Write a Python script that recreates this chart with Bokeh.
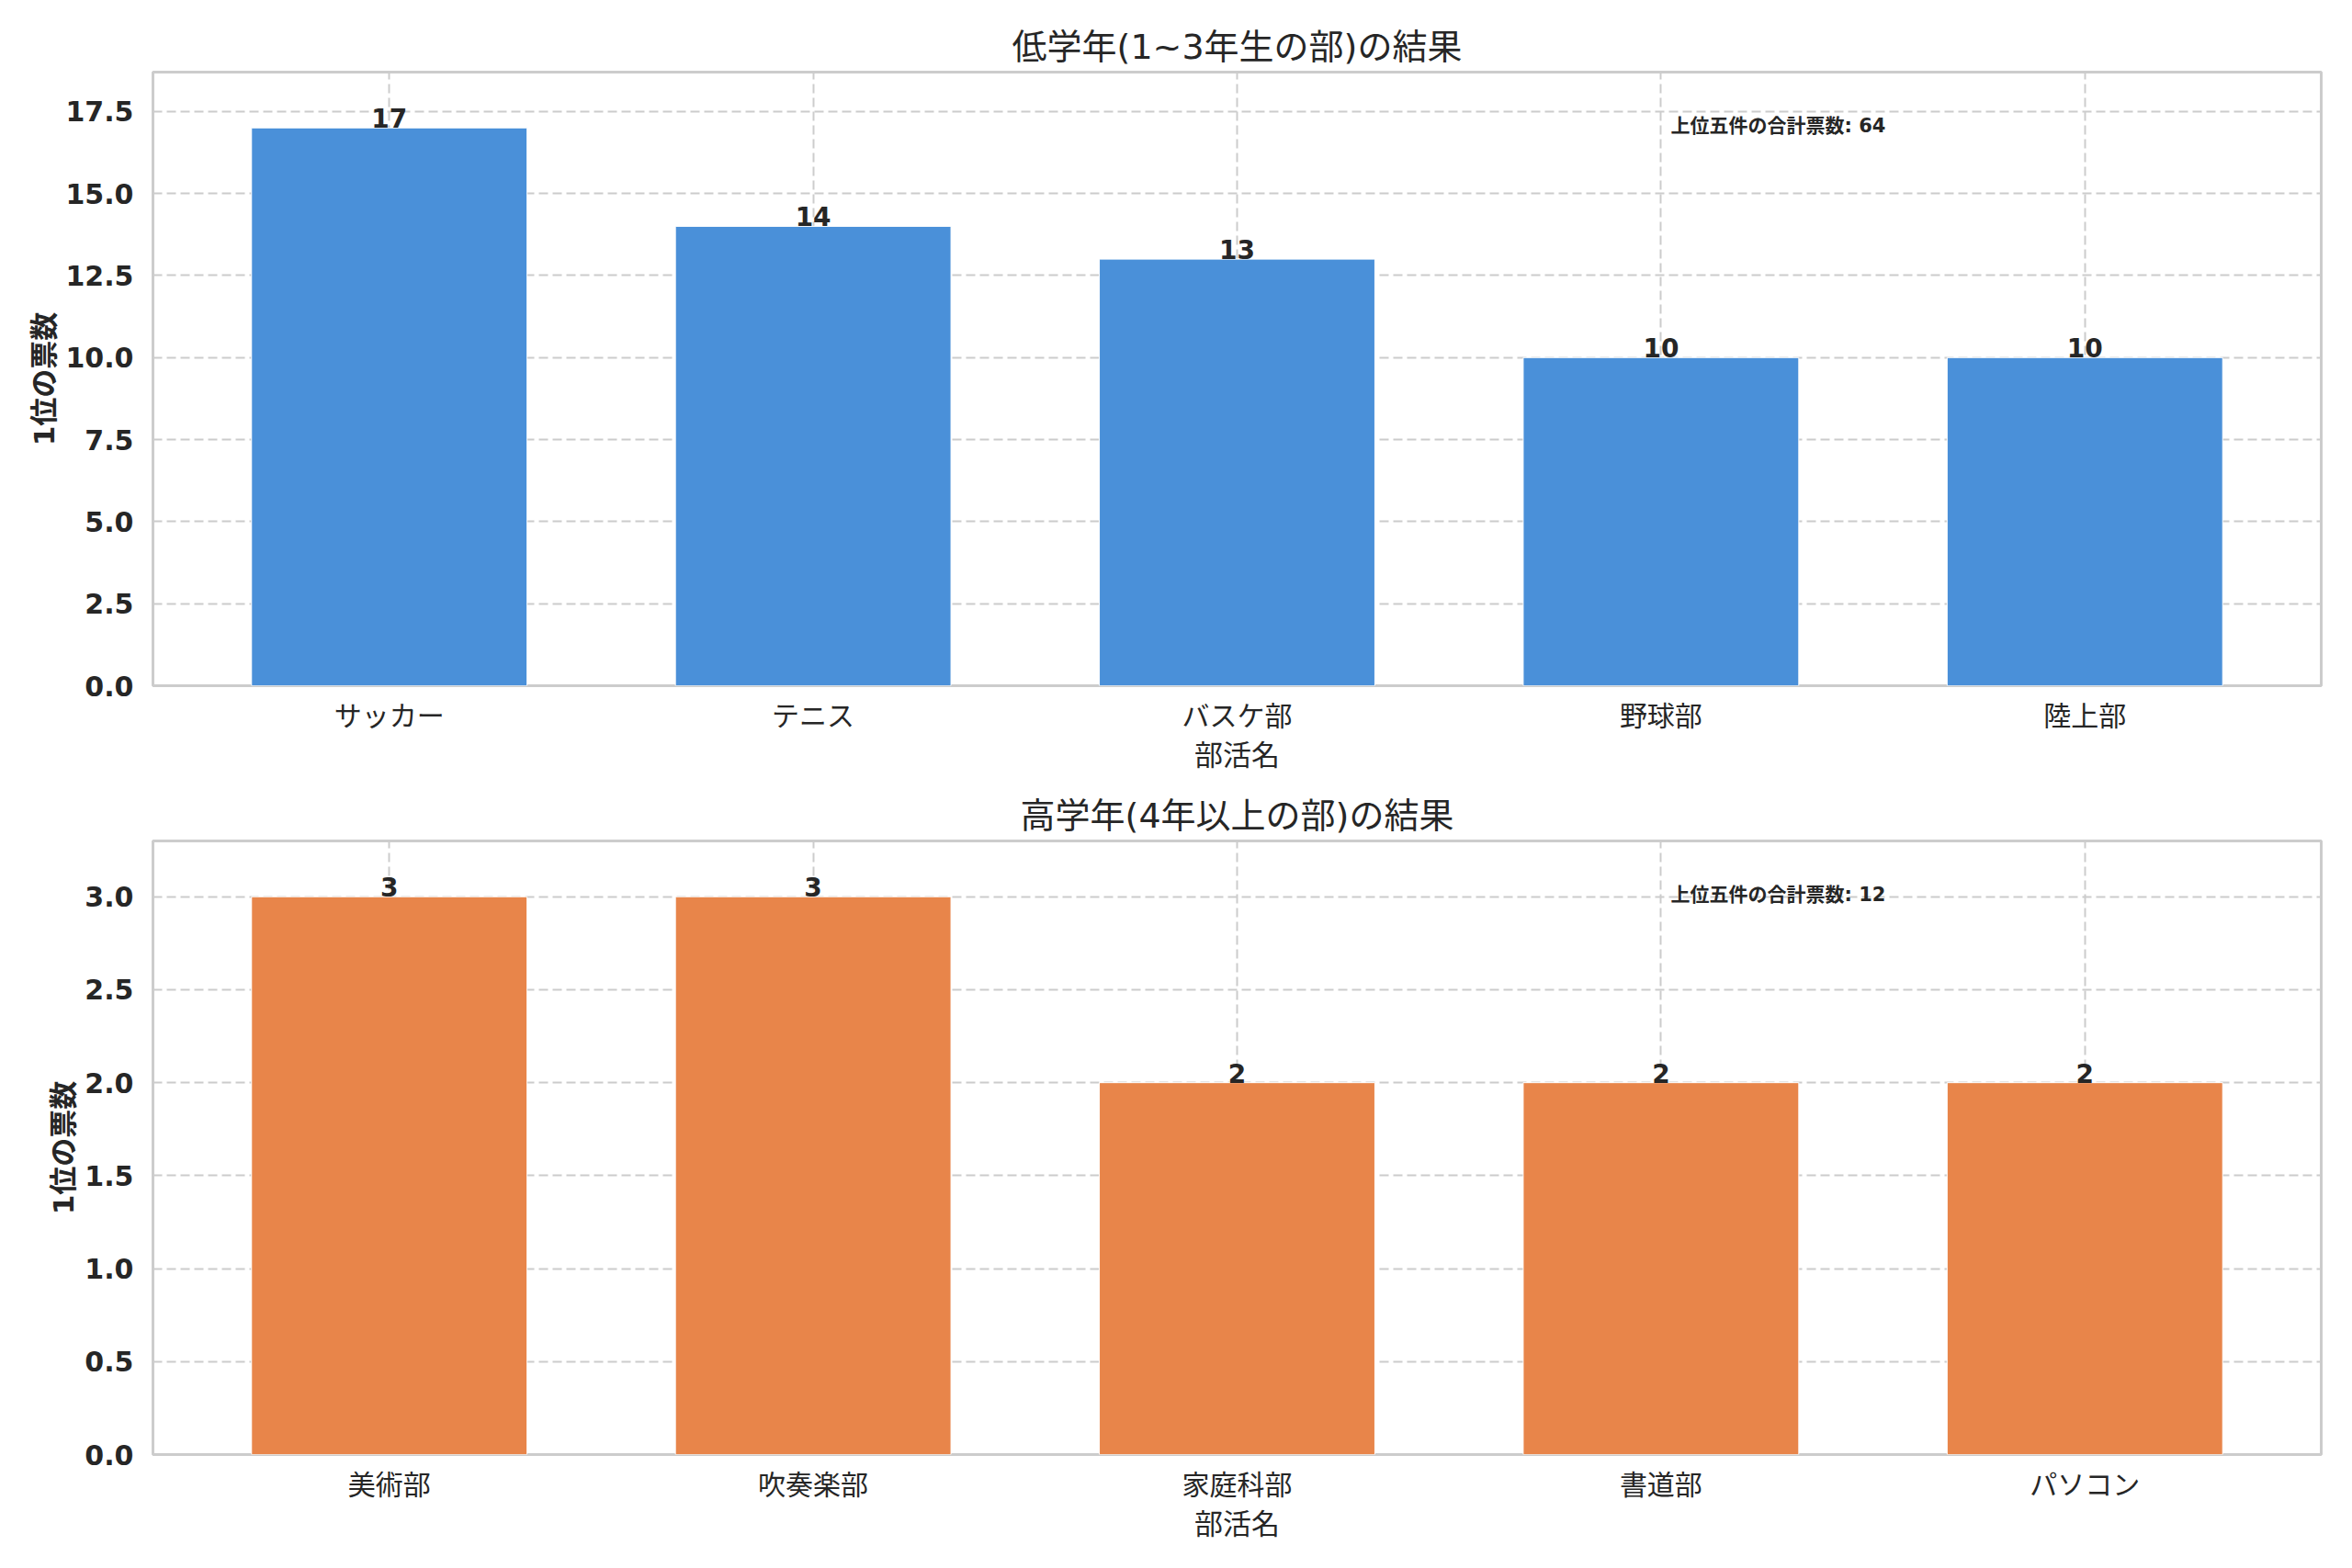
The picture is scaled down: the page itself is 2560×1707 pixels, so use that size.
from bokeh.plotting import figure
from bokeh.models import Range1d, FixedTicker, SingleIntervalTicker, NumeralTickFormatter, Label, ColumnDataSource
from bokeh.layouts import column
from bokeh.core.properties import value
from bokeh.embed import file_html
from bokeh.resources import INLINE

# ---- data ----
top_title = "低学年(1~3年生の部)の結果"
bottom_title = "高学年(4年以上の部)の結果"
top_categories = ["サッカー", "テニス", "バスケ部", "野球部", "陸上部"]
top_votes = [17, 14, 13, 10, 10]
bottom_categories = ["美術部", "吹奏楽部", "家庭科部", "書道部", "パソコン"]
bottom_votes = [3, 3, 2, 2, 2]
x_label = "部活名"
y_label = "1位の票数"
total_label = "上位五件の合計票数"
top_tick_interval = 2.5
bottom_tick_interval = 0.5
bar_colors = ["#4A90D9", "#E8854A"]

FONT = "DejaVu Sans, Noto Sans CJK JP"
TEXT = "#262626"
GRID = "#cccccc"
BAR_W = 0.65


def make_panel(title, cats, vals, color, interval, border_top, border_bottom):
    n = len(cats)
    xs = list(range(n))
    pad = (n - 1 + BAR_W) * 0.05
    x0 = -BAR_W / 2 - pad
    x1 = n - 1 + BAR_W / 2 + pad
    ymax = max(vals) * 1.1
    p = figure(frame_width=2360, frame_height=668,
               x_range=Range1d(x0, x1), y_range=Range1d(0, ymax),
               output_backend="svg", toolbar_location=None,
               min_border_left=166, min_border_right=25,
               min_border_top=border_top, min_border_bottom=border_bottom,
               background_fill_color="white", border_fill_color="white")
    p.title.text = title
    p.title.align = "center"
    p.title.text_font = FONT
    p.title.text_font_size = "38px"
    p.title.text_font_style = "normal"
    p.title.text_color = TEXT
    p.title.standoff = 11

    p.outline_line_color = GRID
    p.outline_line_width = 3

    # grids
    p.xgrid.ticker = FixedTicker(ticks=xs)
    for g in (p.xgrid, p.ygrid):
        g.grid_line_color = GRID
        g.grid_line_width = 2
        g.grid_line_dash = "10 5"

    # axes
    p.xaxis.ticker = FixedTicker(ticks=xs)
    p.xaxis.major_label_overrides = {i: c for i, c in enumerate(cats)}
    p.yaxis.ticker = SingleIntervalTicker(interval=interval)
    p.yaxis.formatter = NumeralTickFormatter(format="0.0")
    for ax in (p.xaxis, p.yaxis):
        ax.axis_line_color = None
        ax.major_tick_line_color = None
        ax.minor_tick_line_color = None
        ax.major_tick_out = 0
        ax.major_tick_in = 0
        ax.major_label_text_font = FONT
        ax.major_label_text_color = TEXT
        ax.major_label_text_font_size = "30px"
        ax.axis_label_text_font = FONT
        ax.axis_label_text_color = TEXT
        ax.axis_label_text_font_size = "31px"
    p.xaxis.major_label_standoff = 15
    p.yaxis.major_label_standoff = 17
    p.yaxis.major_label_text_font_style = "bold"
    p.xaxis.major_label_text_font_style = "normal"
    p.xaxis.axis_label = x_label
    p.yaxis.axis_label = y_label
    p.xaxis.axis_label_text_font_style = "normal"
    p.yaxis.axis_label_text_font_style = "bold"
    p.xaxis.axis_label_standoff = 4
    p.yaxis.axis_label_standoff = 2

    src = ColumnDataSource(dict(x=xs, v=vals, lab=[str(v) for v in vals]))
    p.vbar(x="x", top="v", width=BAR_W, source=src, fill_color=color,
           line_color="white", line_width=1)
    p.text(x="x", y="v", text="lab", source=src, text_align="center",
           text_baseline="bottom", text_font=value(FONT),
           text_font_size="28px", text_font_style="bold", text_color=TEXT)

    total = Label(x=x0 + 0.7 * (x1 - x0), y=ymax * (1 - 0.07),
                  text=f"{total_label}: {sum(vals)}", text_baseline="top",
                  text_align="left", text_font=FONT, text_font_size="21px",
                  text_font_style="bold", text_color=TEXT)
    p.add_layout(total)
    return p


p1 = make_panel(top_title, top_categories, top_votes, bar_colors[0],
                top_tick_interval, 78, 100)
p2 = make_panel(bottom_title, bottom_categories, bottom_votes, bar_colors[1],
                bottom_tick_interval, 69, 100)

layout = column(p1, p2, spacing=0)
open("out.html", "w").write(file_html(layout, INLINE))
